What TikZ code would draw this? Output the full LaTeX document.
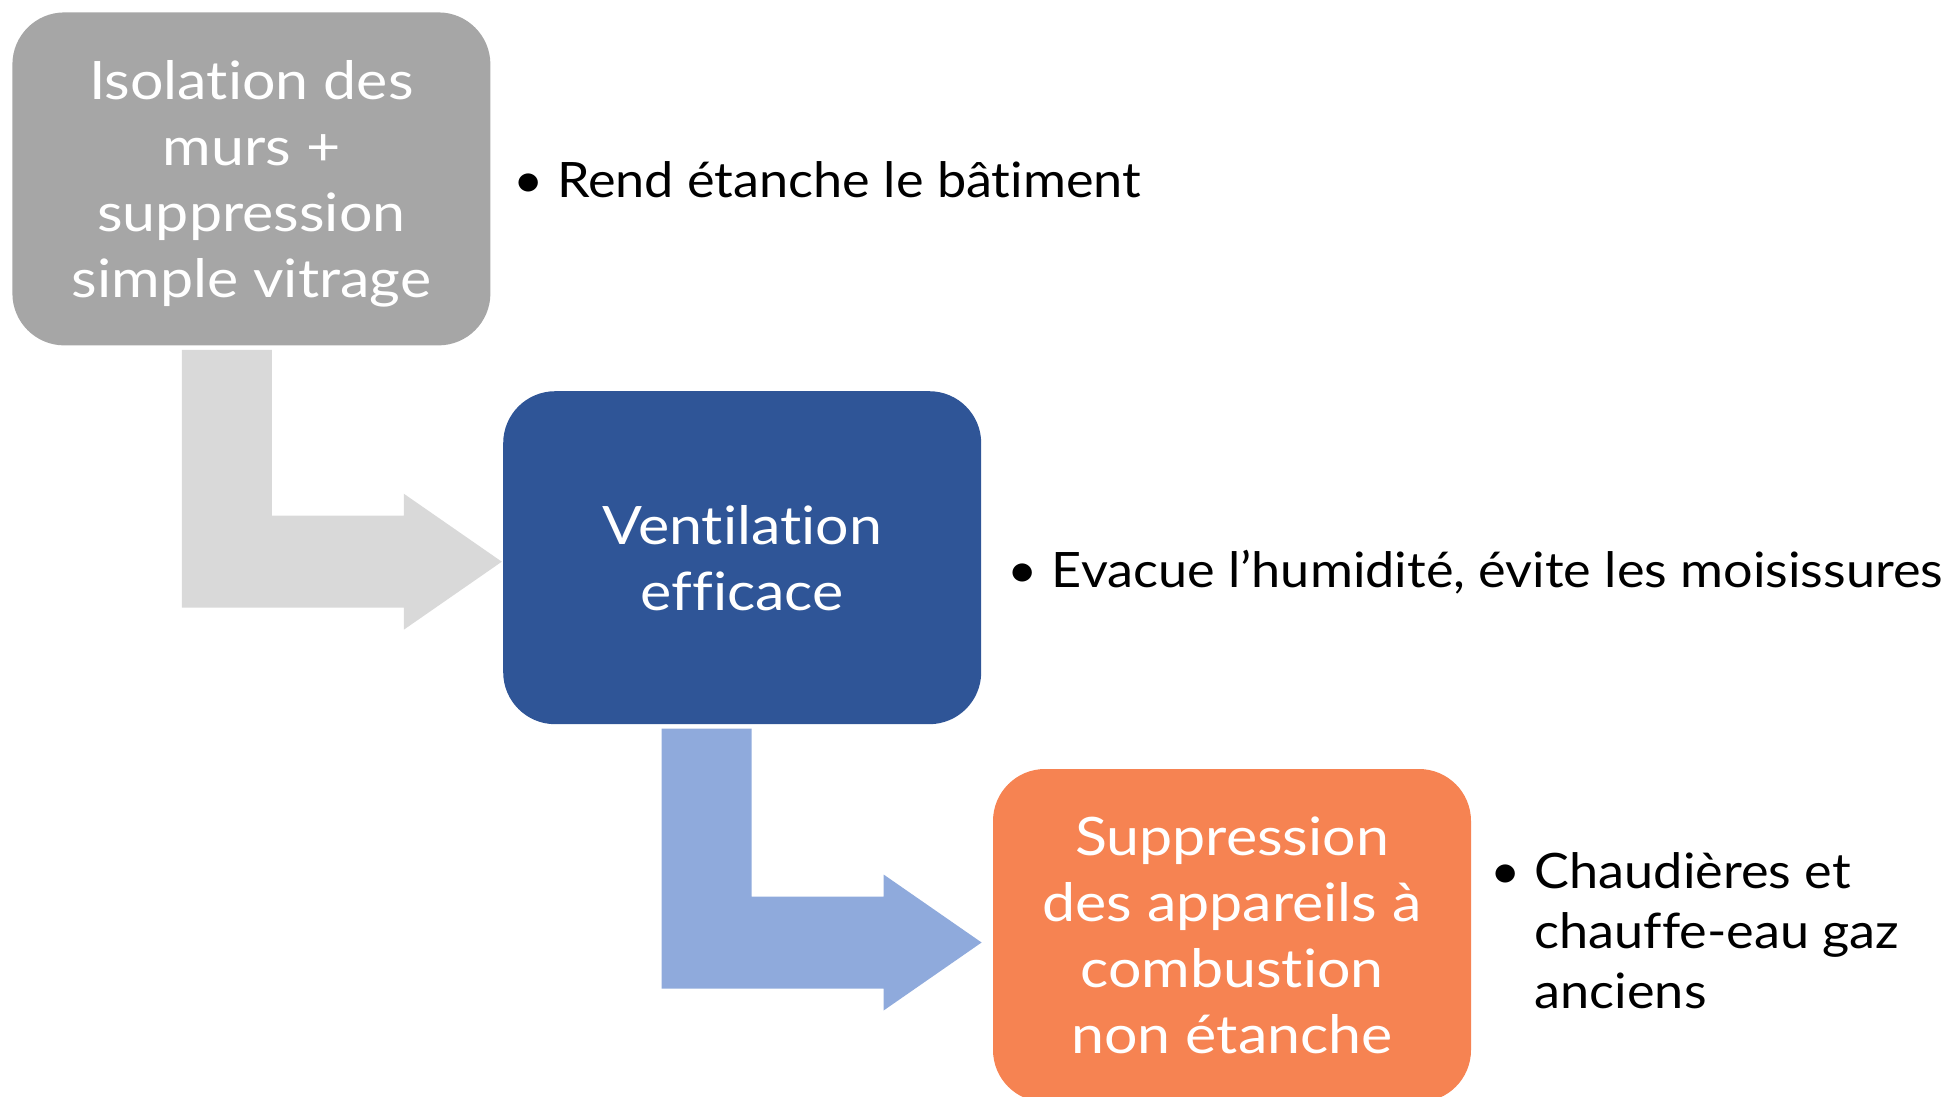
\documentclass[tikz,border=0pt]{standalone}
\usepackage{fontspec}
\setmainfont{Lato}[FakeStretch=1.07, Ligatures=NoCommon]
\newfontfamily\etapefont{Lato}[FakeStretch=1.115, Ligatures=NoCommon]
\usetikzlibrary{positioning, calc}

\definecolor{isolgray}{HTML}{A6A6A6}
\definecolor{arrowgray}{HTML}{D9D9D9}
\definecolor{ventblue}{HTML}{2F5597}
\definecolor{arrowblue}{HTML}{8FAADC}
\definecolor{combustorange}{HTML}{F68352}

\tikzset{
	etape/.style={rectangle, rounded corners=26pt, minimum width=239pt, minimum height=166.5pt,
		inner sep=0pt, text depth=0pt, text=white, align=center, font=\etapefont\fontsize{26.5}{33}\selectfont},
	puce/.style={inner sep=0pt, text=black, font=\fontsize{24.4}{30}\selectfont}
}
\newcommand{\listepuce}[1]{\begin{tabular}[t]{@{}l@{}l@{}}\makebox[29pt]{•} & #1\end{tabular}}

\begin{document}
\begin{tikzpicture}[x=0.5pt, y=-0.5pt]
	\useasboundingbox (0,0) rectangle (1950,1097);
	\clip (0,0) rectangle (1950,1097);

	\node[etape, fill=isolgray, anchor=north west] (box1) at (12,12) {Isolation des\\murs +\\suppression\\simple vitrage};
	\node[etape, fill=ventblue, below right=22.5pt and 6pt of box1] (box2) {Ventilation\\efficace};
	\node[etape, fill=combustorange, below right=22pt and 5.5pt of box2] (box3) {Suppression\\des appareils à\\combustion\\non étanche};

	\coordinate (tip1) at ($(box2.west)+(-1,4)$);
	\coordinate (tip2) at ($(box3.west)+(-11,7)$);

	\foreach \tip/\src/\col in {tip1/box1/arrowgray, tip2/box2/arrowblue}
		\fill[\col] (\tip) -- ++(-98,68) -- ++(0,-22) -- ++(-222,0)
			-- ($(\tip|-\src.south)+(-320,4)$) -- ++(90,0)
			-- ($(\tip)+(-230,-46)$) -- ++(132,0) -- ++(0,-22) -- cycle;

	\node[puce, right=4pt of box1.east, anchor=base west, yshift=-9.5pt] (note1)
		{\listepuce{Rend étanche le bâtiment}};
	\node[puce, right=6pt of box2.east, anchor=base west, yshift=-15pt] (note2)
		{\listepuce{Evacue l’humidité, évite les moisissures}};
	\node[puce, right=2.5pt of box3.east, anchor=base west, yshift=23.5pt] (note3)
		{\listepuce{Chaudières et\\ & chauffe-eau gaz\\ & anciens}};
\end{tikzpicture}
\end{document}
